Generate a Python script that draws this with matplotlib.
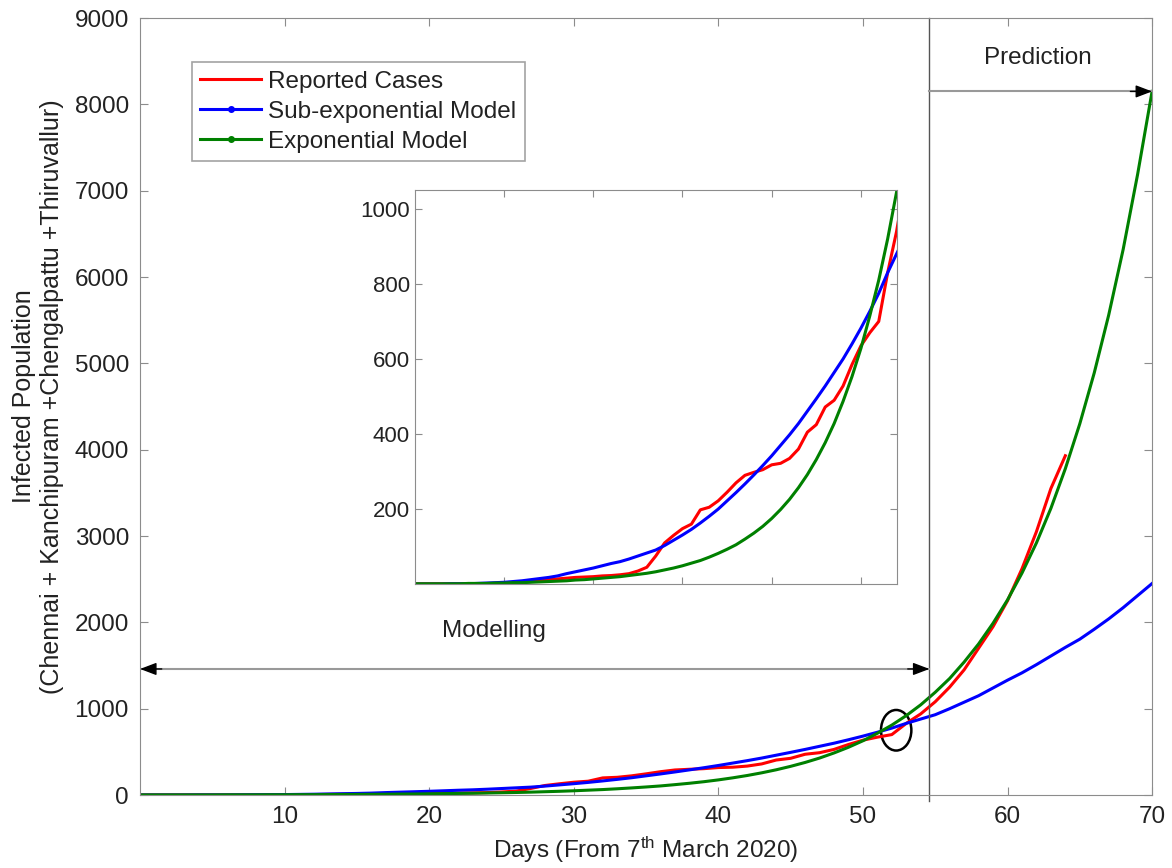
import numpy as np
import matplotlib
matplotlib.use("Agg")
import matplotlib.pyplot as plt
from matplotlib.patches import Ellipse
from matplotlib.lines import Line2D

plt.rcParams['font.family'] = ['Liberation Sans', 'DejaVu Sans']
plt.rcParams['mathtext.default'] = 'regular'

# reported cases, days 0..64
reported = [1, 1, 1, 1, 1, 1, 1, 1, 1, 1, 1,
            3, 5, 7, 9, 12, 14, 16, 18, 19, 20,
            22, 23, 25, 28, 35, 45, 75, 110, 130, 148,
            160, 198, 205, 222, 245, 270, 290, 298, 305, 318,
            322, 335, 360, 405, 425, 472, 490, 528, 585, 635,
            670, 700, 830, 940, 1080, 1250, 1450, 1700, 1950, 2250,
            2620, 3050, 3550, 3930]

# sub-exponential model, days 0..70
sub_exp = [0, 0, 0, 0, 1, 1, 1, 2, 3, 4, 5,
           7, 9, 12, 15, 18, 22, 28, 33, 38, 43,
           49, 55, 60, 67, 75, 83, 91, 103, 117, 131,
           146, 163, 181, 200, 222, 244, 267, 291, 316, 342,
           370, 398, 428, 461, 494, 528, 564, 600, 640, 682,
           727, 775, 830, 880, 930, 1000, 1075, 1150, 1240, 1330,
           1415, 1510, 1610, 1710, 1805, 1920, 2040, 2170, 2310, 2450]

# exponential model, days 0..70
expo = [1, 1, 1, 1, 1, 1, 2, 2, 2, 3, 3,
        4, 4, 5, 6, 7, 8, 9, 11, 12, 14,
        16, 18, 20, 23, 26, 29, 33, 38, 43, 49,
        56, 63, 72, 82, 93, 105, 120, 136, 154, 175,
        199, 226, 257, 292, 332, 377, 428, 487, 553, 628,
        715, 810, 920, 1045, 1190, 1350, 1540, 1750, 1990, 2260,
        2570, 2920, 3320, 3780, 4300, 4890, 5560, 6320, 7190, 8150]

days_rep = np.arange(len(reported))
days_mod = np.arange(len(sub_exp))

split_day = 54.6
txt = '#222222'
frame = '#8c8c8c'
fs = 17.5

fig = plt.figure(figsize=(11.72, 8.68), dpi=100)
ax = fig.add_axes([0.1195, 0.0841, 0.8635, 0.8951])

ax.plot(days_rep, reported, color='red', lw=2.2)
ax.plot(days_mod, sub_exp, color='blue', lw=2.2)
ax.plot(days_mod, expo, color='green', lw=2.2)

ax.set_xlim(0, 70)
ax.set_ylim(0, 9000)
ax.set_xticks(range(10, 71, 10))
ax.set_yticks(range(0, 9001, 1000))
ax.tick_params(direction='in', top=True, right=True, length=6, color=frame,
               labelsize=fs, labelcolor=txt, pad=8)
for s in ax.spines.values():
    s.set_color(frame)

ax.set_xlabel('Days (From 7$^{th}$ March 2020)', fontsize=17.5, color=txt, labelpad=5)
ax.set_ylabel('Infected Population\n(Chennai + Kanchipuram +Chengalpattu +Thiruvallur)',
              fontsize=18, color=txt, labelpad=8, linespacing=1.2)
ax.yaxis.set_label_coords(-0.075, 0.513)

# split between modelling and prediction
ax.plot([split_day, split_day], [-70, 9000], color='#555555', lw=1, clip_on=False)

head = '-|>,head_length=1.0,head_width=0.38'

# modelling arrow
y_mod = 1460
ax.plot([0, split_day], [y_mod, y_mod], color='#999999', lw=1.5)
ax.annotate('', xy=(0, y_mod), xytext=(1.5, y_mod),
            arrowprops=dict(arrowstyle=head, color='black', lw=1, shrinkA=0, shrinkB=0))
ax.annotate('', xy=(split_day, y_mod), xytext=(split_day - 1.5, y_mod),
            arrowprops=dict(arrowstyle=head, color='black', lw=1, shrinkA=0, shrinkB=0))
ax.text(24.5, 1900, 'Modelling', fontsize=17.5, color=txt, ha='center', va='center')

# prediction arrow
y_pred = 8150
ax.plot([split_day, 70], [y_pred, y_pred], color='#999999', lw=1.5)
ax.annotate('', xy=(70, y_pred), xytext=(68.5, y_pred),
            arrowprops=dict(arrowstyle=head, color='black', lw=1, shrinkA=0, shrinkB=0))
ax.text(62.1, 8540, 'Prediction', fontsize=17.5, color=txt, ha='center', va='center')

ax.add_patch(Ellipse((52.3, 750), 2.1, 470, fill=False, edgecolor='black', lw=1.8))

handles = [Line2D([], [], color='red', lw=2.2),
           Line2D([], [], color='blue', lw=2.2, marker='.', markersize=8),
           Line2D([], [], color='green', lw=2.2, marker='.', markersize=8)]
labels = ['Reported Cases', 'Sub-exponential Model', 'Exponential Model']
leg = ax.legend(handles, labels, loc='upper left', bbox_to_anchor=(0.051, 0.943),
                borderaxespad=0, fontsize=17.5, frameon=True, fancybox=False,
                edgecolor=frame, handlelength=2.5, handletextpad=0.3,
                labelspacing=0.33, borderpad=0.35, numpoints=1)
leg.get_frame().set_linewidth(1.2)
for t in leg.get_texts():
    t.set_color(txt)

# inset zoom of the modelling period
ins = fig.add_axes([0.354, 0.327, 0.411, 0.454])
ins.plot(days_rep, reported, color='red', lw=2.2)
ins.plot(days_mod, sub_exp, color='blue', lw=2.2)
ins.plot(days_mod, expo, color='green', lw=2.2)
ins.set_xlim(0, 54)
ins.set_ylim(0, 1050)
ins.set_xticks(range(10, 51, 10))
ins.set_xticklabels([])
ins.set_yticks(range(200, 1001, 200))
ins.tick_params(direction='in', top=True, right=True, length=5, color=frame,
                labelsize=16, labelcolor=txt)
for s in ins.spines.values():
    s.set_color(frame)

fig.savefig('out.png', dpi=100)
